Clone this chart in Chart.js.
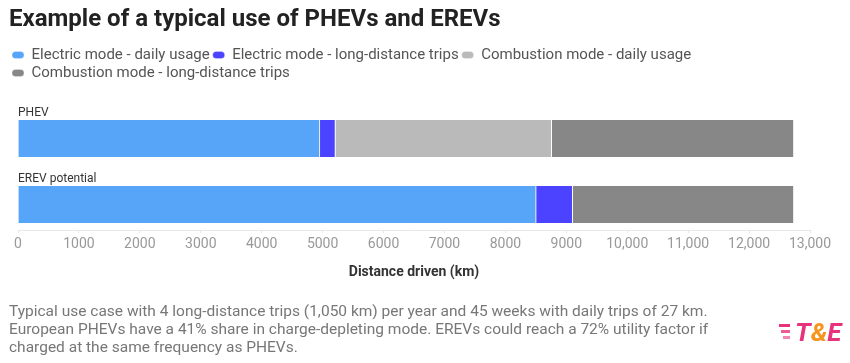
<!DOCTYPE html>
<html><head><meta charset="utf-8">
<script src="https://cdn.jsdelivr.net/npm/chart.js@4.4.1/dist/chart.umd.min.js"></script>
<style>html,body{margin:0;padding:0;background:#fff}</style>
</head><body>
<canvas id="c" width="850" height="363"></canvas>
<script>
const categories = ['PHEV', 'EREV potential'];
const seriesNames = ['Electric mode - daily usage', 'Electric mode - long-distance trips', 'Combustion mode - daily usage', 'Combustion mode - long-distance trips'];
const electricDaily = [4955, 8505];
const electricLong = [255, 600];
const combustionDaily = [3550, 0];
const combustionLong = [3975, 3630];
const seriesColors = ['#57a5f9', '#4b43ff', '#bababa', '#878787'];
const tickLabels = ['0', '1000', '2000', '3000', '4000', '5000', '6000', '7000', '8000', '9000', '10,000', '11,000', '12,000', '13,000'];
const titleText = 'Example of a typical use of PHEVs and EREVs';
const axisTitle = 'Distance driven (km)';
const footnote = [
  'Typical use case with 4 long-distance trips (1,050 km) per year and 45 weeks with daily trips of 27 km.',
  'European PHEVs have a 41% share in charge-depleting mode. EREVs could reach a 72% utility factor if',
  'charged at the same frequency as PHEVs.'
];

const FONT = 'Roboto, "Noto Sans", sans-serif';
Chart.defaults.font.family = FONT;

const seriesValues = [electricDaily, electricLong, combustionDaily, combustionLong];
const datasets = seriesValues.map((vals, s) => ({
  label: seriesNames[s],
  data: vals.map((v, i) => ({ x: v, y: i })),
  backgroundColor: seriesColors[s],
  borderColor: '#ffffff',
  borderWidth: { top: 0, right: 1, bottom: 0, left: 0 },
  borderSkipped: false,
  barThickness: 37
}));

const logoPlugin = {
  id: 'logo',
  afterDraw(chart) {
    const ctx = chart.ctx;
    ctx.save();
    ctx.fillStyle = '#e6337c';
    const sx = 779, sy = 324;
    for (let k = 0; k < 3; k++) {
      ctx.globalAlpha = 1 - k * 0.2;
      ctx.fillRect(sx + k * 2, sy + k * 6, 11 - k * 2, 3);
    }
    ctx.globalAlpha = 1;
    ctx.font = 'italic bold 26px Roboto';
    ctx.textBaseline = 'alphabetic';
    let x = 795; const y = 341;
    ctx.fillStyle = '#e6337c'; ctx.fillText('T', x, y); x += ctx.measureText('T').width;
    ctx.fillStyle = '#f7941d'; ctx.fillText('&', x, y); x += ctx.measureText('&').width;
    ctx.fillStyle = '#e6337c'; ctx.fillText('E', x, y);
    ctx.restore();
  }
};

new Chart(document.getElementById('c'), {
  type: 'bar',
  data: { datasets },
  plugins: [logoPlugin],
  options: {
    indexAxis: 'y',
    responsive: false,
    animation: false,
    devicePixelRatio: 1,
    layout: { padding: { left: 9, right: 40, top: 0, bottom: 0 } },
    plugins: {
      tooltip: { enabled: false },
      title: {
        display: true, text: titleText, align: 'start', color: '#222222',
        font: { size: 24, weight: 'bold', lineHeight: 1.2 },
        padding: { top: 5.2, bottom: 10.5 }
      },
      legend: {
        display: true, position: 'top', align: 'start',
        labels: {
          boxWidth: 12, boxHeight: 7, useBorderRadius: true, borderRadius: 3.5,
          padding: 3, color: '#555555', font: { size: 15 }
        }
      },
      subtitle: {
        display: true, position: 'bottom', align: 'start', text: footnote, color: '#777777',
        font: { size: 15.5, lineHeight: 18 / 15.5 },
        padding: { top: 8, bottom: 6 }
      }
    },
    scales: {
      x: {
        type: 'linear', position: 'bottom', min: 0, max: 13000, stacked: true,
        ticks: {
          stepSize: 1000, autoSkip: false, maxRotation: 0, padding: 3, color: '#999999',
          font: { size: 14 },
          callback: (v, i) => tickLabels[i]
        },
        grid: { display: true, drawOnChartArea: false, drawTicks: true, tickLength: 3, color: '#e8e8e8' },
        border: { display: true, color: '#e8e8e8' },
        title: {
          display: true, text: axisTitle, color: '#333333',
          font: { size: 14, weight: 'bold', lineHeight: 1.2 },
          padding: { top: 0, bottom: 14.6 }
        },
        afterFit: s => { s.height = 65; }
      },
      y: {
        type: 'linear', reverse: true, offset: false, min: -0.7273, max: 1.3864, stacked: true,
        grid: { display: false, offset: false }, border: { display: false },
        ticks: {
          stepSize: 1, mirror: true, padding: 0, labelOffset: -25.5, color: '#333333',
          font: { size: 12 },
          callback: v => categories[v] ?? ''
        },
        afterBuildTicks: s => { s.ticks = s.ticks.filter(t => Number.isInteger(t.value)); },
        afterFit: s => { s.width = 9; }
      }
    }
  }
});
</script>
</body></html>
